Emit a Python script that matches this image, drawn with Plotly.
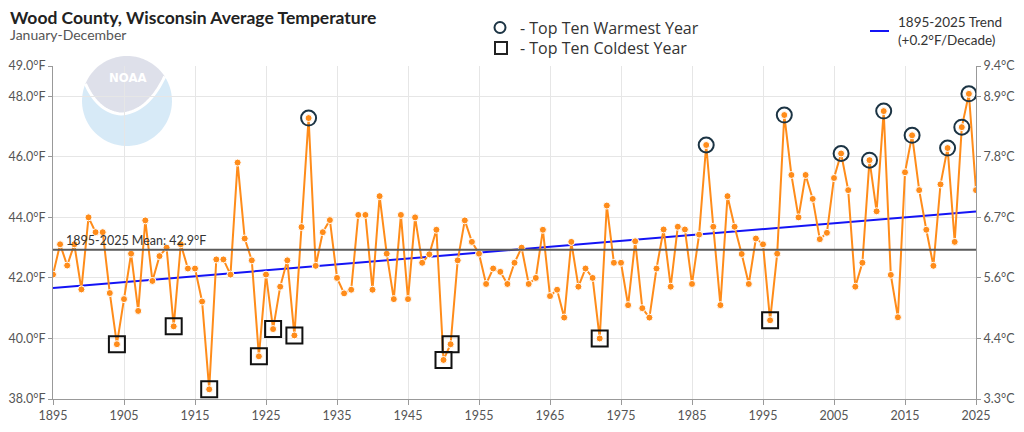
import numpy as np
import plotly.graph_objects as go

years = list(range(1895, 2026))
temps_f = [
    42.11, 43.11, 42.41, 43.11, 41.62, 44.00, 43.51, 43.51, 41.50, 39.81,  # 1895-1904
    41.30, 42.80, 40.91, 43.90, 41.90, 42.72, 43.00, 40.40, 43.11, 42.31,  # 1905-1914
    42.31, 41.22, 38.32, 42.61, 42.61, 42.11, 45.81, 43.30, 42.58, 39.41,  # 1915-1924
    42.11, 40.31, 41.71, 42.58, 40.10, 43.68, 47.28, 42.40, 43.51, 43.91,  # 1925-1934
    42.00, 41.49, 41.61, 44.08, 44.08, 41.61, 44.70, 42.80, 41.30, 44.08,  # 1935-1944
    41.30, 44.00, 42.50, 42.78, 43.59, 39.29, 39.81, 42.58, 43.90, 43.19,  # 1945-1954
    42.80, 41.80, 42.31, 42.20, 41.80, 42.50, 43.00, 41.80, 42.00, 43.59,  # 1955-1964
    41.40, 41.61, 40.69, 43.19, 41.71, 42.31, 42.00, 40.00, 44.39, 42.50,  # 1965-1974
    42.50, 41.10, 43.21, 41.00, 40.69, 42.31, 43.60, 41.71, 43.69, 43.60,  # 1975-1984
    41.80, 43.43, 46.39, 43.69, 41.10, 44.70, 43.69, 42.79, 41.80, 43.30,  # 1985-1994
    43.11, 40.60, 42.80, 47.38, 45.40, 44.00, 45.40, 44.61, 43.28, 43.49,  # 1995-2004
    45.30, 46.11, 44.90, 41.71, 42.50, 45.89, 44.20, 47.51, 42.10, 40.70,  # 2005-2014
    45.49, 46.71, 44.90, 43.59, 42.40, 45.09, 46.29, 43.19, 46.98, 48.08,  # 2015-2024
    44.90,                                                                 # 2025
]

f_ticks = [38, 40, 42, 44, 46, 48, 49]
f_ticktext = ["38.0°F", "40.0°F", "42.0°F", "44.0°F", "46.0°F", "48.0°F", "49.0°F"]
c_ticktext = [f"{(f - 32) * 5 / 9:.1f}°C" for f in f_ticks]
x_ticks = list(range(1895, 2026, 10))

yrs = np.array(years)
tf = np.array(temps_f)
mean_f = float(tf.mean())
slope, intercept = np.polyfit(yrs, tf, 1)
trend_y = slope * yrs + intercept

order = np.argsort(tf)
coldest = sorted(order[:10].tolist())
warmest = sorted(order[-10:].tolist())

FONT = "Lato"
LEGEND_FONT = "Open Sans"

# plot-area geometry in page pixels (page has an 8px body margin)
PL, PR, PT, PB = 53, 976, 66, 399


def px(x):
    return (x - PL) / (PR - PL)


def py(y):
    return (PB - y) / (PB - PT)


def to_path(pts, close=True):
    s = "M " + " L ".join(f"{px(x):.5f},{py(y):.5f}" for x, y in pts)
    return s + (" Z" if close else "")


fig = go.Figure()

fig.add_trace(go.Scatter(
    x=years, y=trend_y, mode="lines",
    line=dict(color="#1414f5", width=2), hoverinfo="skip", showlegend=False))

fig.add_trace(go.Scatter(
    x=years, y=temps_f, mode="lines+markers",
    line=dict(color="#ff8c1a", width=2),
    marker=dict(color="#ff8c1a", size=7, line=dict(color="white", width=1)),
    showlegend=False))

fig.add_trace(go.Scatter(
    x=[years[i] for i in warmest], y=[temps_f[i] for i in warmest], mode="markers",
    marker=dict(symbol="circle-open", size=15, color="#1c3444", line=dict(width=2)),
    showlegend=False))

fig.add_trace(go.Scatter(
    x=[years[i] for i in coldest], y=[temps_f[i] for i in coldest], mode="markers",
    marker=dict(symbol="square-open", size=16, color="#111111", line=dict(width=2)),
    showlegend=False))

# right axis (Celsius) placeholder trace
fig.add_trace(go.Scatter(x=[years[0]], y=[temps_f[0]], yaxis="y2", mode="markers",
                         marker=dict(opacity=0), hoverinfo="skip", showlegend=False))

fig.add_hline(y=mean_f, line=dict(color="#5a5a5a", width=2))

fig.add_annotation(x=1896.6, y=mean_f, xref="x", yref="y", xanchor="left", yanchor="bottom",
                   text=f"1895-2025 Mean: {mean_f:.1f}°F", showarrow=False, yshift=0,
                   font=dict(family=FONT, size=12.5, color="#333333"))

# NOAA watermark (decorative)
cx, cy, r = 127, 101, 45


def bez(p0, p1, p2, n=20):
    t = np.linspace(0, 1, n)[:, None]
    return (1 - t) ** 2 * np.array(p0) + 2 * (1 - t) * t * np.array(p1) + t ** 2 * np.array(p2)


def arc(a0, a1, n=50):
    a = np.radians(np.linspace(a0, a1, n))
    return np.column_stack([cx + r * np.cos(a), cy - r * np.sin(a)])


top_arc = arc(33, 157.5)
left_pt, right_pt = top_arc[-1], top_arc[0]
bottom = (121, 114)
curve = np.vstack([bez(left_pt, (98, 112), bottom), bez(bottom, (148, 112), right_pt)])
cap = np.vstack([top_arc, curve])
lower = np.vstack([arc(157.5, 393), curve[::-1]])
fig.add_shape(type="path", xref="paper", yref="paper", path=to_path(lower),
              fillcolor="#bcdcf2", opacity=0.6, line=dict(width=0), layer="below")
fig.add_shape(type="path", xref="paper", yref="paper", path=to_path(cap),
              fillcolor="#c8cbdc", opacity=0.6, line=dict(width=0), layer="below")
fig.add_shape(type="path", xref="paper", yref="paper", path=to_path(curve, close=False),
              line=dict(color="white", width=3), layer="below")
fig.add_annotation(x=px(127), y=py(78), xref="paper", yref="paper", xanchor="center",
                   yanchor="middle", text="<b>NOAA</b>", showarrow=False,
                   font=dict(family="DejaVu Sans Condensed, DejaVu Sans", size=13, color="white"))

# Titles
fig.add_annotation(x=px(8), y=py(17), xref="paper", yref="paper", xanchor="left", yanchor="middle",
                   text="<b>Wood County, Wisconsin Average Temperature</b>", showarrow=False,
                   font=dict(family=FONT, size=17.5, color="#222222"))
fig.add_annotation(x=px(8), y=py(35), xref="paper", yref="paper", xanchor="left", yanchor="middle",
                   text="January-December", showarrow=False,
                   font=dict(family=FONT, size=14, color="#555555"))

# Legend (decorative keys)
fig.add_shape(type="circle", xref="paper", yref="paper",
              x0=px(494.5), x1=px(505.5), y0=py(33), y1=py(22),
              line=dict(color="#1c3444", width=2))
fig.add_annotation(x=px(518), y=py(27.5), xref="paper", yref="paper", xanchor="left",
                   yanchor="middle", text="- Top Ten Warmest Year", showarrow=False,
                   font=dict(family=LEGEND_FONT, size=16, color="#333333"))
fig.add_shape(type="rect", xref="paper", yref="paper",
              x0=px(495), x1=px(507), y0=py(54), y1=py(42),
              line=dict(color="#222222", width=2))
fig.add_annotation(x=px(518), y=py(48), xref="paper", yref="paper", xanchor="left",
                   yanchor="middle", text="- Top Ten Coldest Year", showarrow=False,
                   font=dict(family=LEGEND_FONT, size=16, color="#333333"))
fig.add_shape(type="line", xref="paper", yref="paper", x0=px(870), x1=px(889), y0=py(31), y1=py(31),
              line=dict(color="#1414f5", width=2))
fig.add_annotation(x=px(896), y=py(31), xref="paper", yref="paper", xanchor="left",
                   yanchor="middle", text="1895-2025 Trend<br>(+0.2°F/Decade)", showarrow=False,
                   align="left", font=dict(family=FONT, size=13.5, color="#333333"))

axis_common = dict(showline=True, linecolor="#999999", linewidth=1, automargin=False,
                   tickfont=dict(family=FONT, size=12.5, color="#555555"),
                   gridcolor="#e6e6e6", gridwidth=1, zeroline=False)

fig.update_layout(
    width=1008, height=416,
    margin=dict(l=PL - 8, r=1016 - PR, t=PT - 8, b=416 + 8 - PB),
    paper_bgcolor="white", plot_bgcolor="white",
    font=dict(family=FONT),
    xaxis=dict(range=[1895, 2025], tickvals=x_ticks, ticks="outside", ticklen=5,
               tickcolor="#999999", showgrid=True, **axis_common),
    yaxis=dict(range=[38, 49], tickvals=f_ticks, ticktext=f_ticktext, ticks="outside",
               ticklen=4, tickcolor="#999999", showgrid=True, **axis_common),
    yaxis2=dict(range=[38, 49], tickvals=f_ticks, ticktext=c_ticktext, overlaying="y",
                side="right", ticks="outside", ticklen=4, tickcolor="#999999",
                showgrid=False, **axis_common),
)

fig.write_html("out.html")
